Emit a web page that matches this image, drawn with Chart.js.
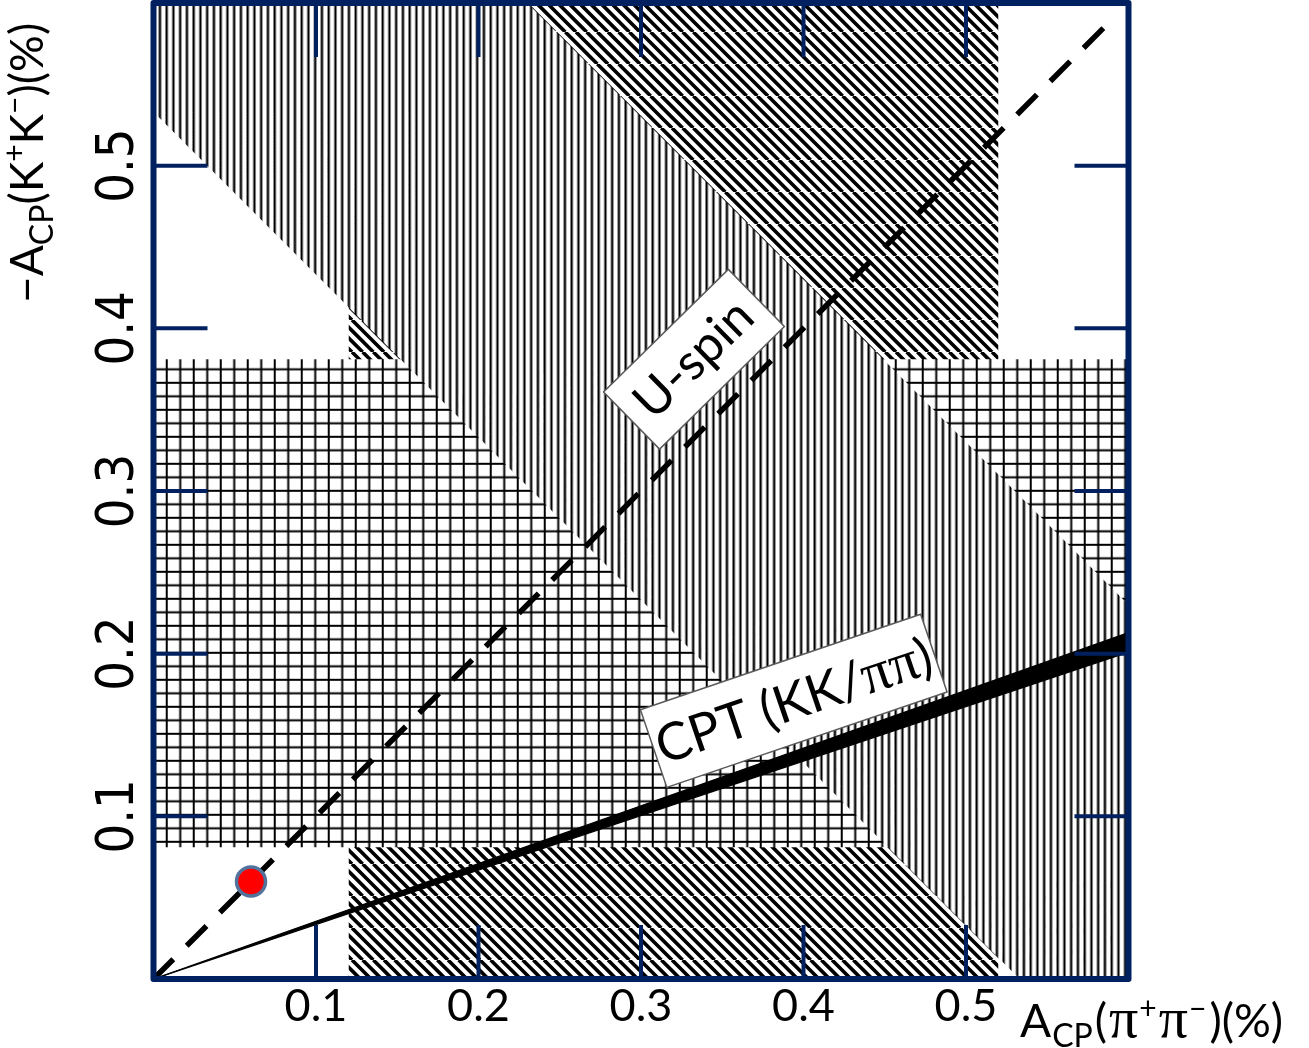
<!DOCTYPE html>
<html><head><meta charset="utf-8">
<script src="https://cdn.jsdelivr.net/npm/chart.js@4.4.1/dist/chart.umd.min.js"></script>
<style>html,body{margin:0;padding:0;background:#fff;} #wrap{width:1309px;height:1048px;position:relative;}</style>
</head><body><div id="wrap"><canvas id="c"></canvas></div>
<script>
// ---- data ----
const axisRange = [0, 0.6];
const xTicks = [0.1, 0.2, 0.3, 0.4, 0.5];
const yTicks = [0.1, 0.2, 0.3, 0.4, 0.5];
const acpPiPiBand = [0.12, 0.52];     // A_CP(pi+pi-) band (diagonal hatch)
const acpKKBand = [0.081, 0.381];     // -A_CP(K+K-) band (cross hatch)
const deltaBand = [0.533, 0.83];      // A_CP(pipi) - A_CP(KK) band (vertical hatch)
const cptSlopes = [0.335, 0.355];     // CPT (KK/pipi) wedge slopes
const uSpinRange = [0, 0.59];         // U-spin line y = x
const measuredPoint = [0.06, 0.06];
const labelTexts = {uspin: 'U-spin', cpt: ['CPT (KK/', 'ππ', ')']};

// ---- styles ----
const NAVY = '#002060';
const SANS = "Lato, 'Open Sans', sans-serif";
const SERIF = "'Liberation Serif', 'DejaVu Serif', serif";
const NARROW = "'Liberation Sans Narrow', 'DejaVu Sans Condensed', " + SANS;

function makePatterns() {
  const base = document.createElement('canvas').getContext('2d');
  // vertical lines
  const v = document.createElement('canvas'); v.width = 27; v.height = 8;
  let g = v.getContext('2d'); g.fillStyle = '#fff'; g.fillRect(0, 0, 27, 8);
  g.fillStyle = '#000'; for (let i = 0; i < 4; i++) g.fillRect(i * 6.75, 0, 2.3, 8);
  const vp = base.createPattern(v, 'repeat');
  vp.setTransform(new DOMMatrix([1, 0, 0, 1, 3.5, 0]));
  // cross hatch
  const c = document.createElement('canvas'); c.width = 27; c.height = 27;
  g = c.getContext('2d'); g.fillStyle = '#fff'; g.fillRect(0, 0, 27, 27);
  g.fillStyle = '#000';
  for (let i = 0; i < 2; i++) { g.fillRect(i * 13.5, 0, 2, 27); g.fillRect(0, i * 13.5, 27, 2); }
  const cp = base.createPattern(c, 'repeat');
  cp.setTransform(new DOMMatrix([1, 0, 0, 1, 3.7, 3.8]));
  // diagonal "\" lines
  const d = document.createElement('canvas'); d.width = 32; d.height = 32;
  g = d.getContext('2d'); g.fillStyle = '#fff'; g.fillRect(0, 0, 32, 32);
  g.strokeStyle = '#000'; g.lineWidth = 3.6; g.beginPath();
  for (let k = -3; k <= 3; k++) { const c0 = k * 32 / 3; g.moveTo(c0, 0); g.lineTo(c0 + 32, 32); }
  g.stroke();
  const dp = base.createPattern(d, 'repeat');
  return {vp, cp, dp};
}
const P = makePatterns();

const xMin = axisRange[0], xMax = axisRange[1];
const datasets = [
  { // 0 measured point
    data: [{x: measuredPoint[0], y: measuredPoint[1]}], showLine: false,
    pointRadius: 14.5, pointBackgroundColor: '#ff0000', pointBorderColor: '#52719b', pointBorderWidth: 3.5, order: 0
  },
  { // 1 U-spin dashed line
    data: uSpinRange.map(v => ({x: v, y: v})), borderColor: '#000', borderWidth: 5.5,
    borderDash: [28, 19], pointRadius: 0, fill: false, order: 1
  },
  { // 2 CPT upper
    data: [{x: xMin, y: cptSlopes[1] * xMin}, {x: xMax, y: cptSlopes[1] * xMax}],
    borderColor: '#000', borderWidth: 1.3, pointRadius: 0, fill: '+1', backgroundColor: '#000', order: 2
  },
  { // 3 CPT lower
    data: [{x: xMin, y: cptSlopes[0] * xMin}, {x: xMax, y: cptSlopes[0] * xMax}],
    borderColor: '#000', borderWidth: 1.3, pointRadius: 0, fill: false, order: 3
  },
  { // 4 delta band upper (x + y = deltaBand[1])
    data: [{x: xMin, y: deltaBand[1] - xMin}, {x: xMax, y: deltaBand[1] - xMax}],
    borderWidth: 0, pointRadius: 0, fill: '+1', backgroundColor: P.vp, order: 4
  },
  { // 5 delta band lower (x + y = deltaBand[0])
    data: [{x: xMin, y: deltaBand[0] - xMin}, {x: xMax, y: deltaBand[0] - xMax}],
    borderWidth: 0, pointRadius: 0, fill: false, order: 5
  },
  { // 6 KK band
    data: [{x: xMin, y: acpKKBand[1]}, {x: xMax, y: acpKKBand[1]}],
    borderWidth: 0, pointRadius: 0, fill: {value: acpKKBand[0]}, backgroundColor: P.cp, order: 6
  },
  { // 7 pipi band
    data: [{x: acpPiPiBand[0], y: axisRange[1]}, {x: acpPiPiBand[1], y: axisRange[1]}],
    borderWidth: 0, pointRadius: 0, fill: {value: axisRange[0]}, backgroundColor: P.dp, order: 7
  }
];

function drawRuns(ctx, runs, x, y) {
  let cx = x;
  for (const r of runs) {
    ctx.font = r.font;
    ctx.fillText(r.t, cx, y + (r.dy || 0));
    cx += ctx.measureText(r.t).width + (r.gap || 0);
  }
  return cx - x;
}
function runsWidth(ctx, runs) {
  let w = 0;
  for (const r of runs) { ctx.font = r.font; w += ctx.measureText(r.t).width + (r.gap || 0); }
  return w;
}
function labelBox(ctx, cx, cy, w, h, ang, runs, base) {
  ctx.save();
  ctx.translate(cx, cy); ctx.rotate(ang * Math.PI / 180);
  ctx.fillStyle = '#fff'; ctx.fillRect(-w / 2, -h / 2, w, h);
  ctx.strokeStyle = '#5a5a5a'; ctx.lineWidth = 1.5; ctx.strokeRect(-w / 2, -h / 2, w, h);
  ctx.fillStyle = '#000'; ctx.textBaseline = 'alphabetic';
  const tw = runsWidth(ctx, runs);
  drawRuns(ctx, runs, -tw / 2, base);
  ctx.restore();
}

const decor = {
  id: 'decor',
  afterDatasetsDraw(chart) {
    const {ctx, chartArea: a, scales: {x, y}} = chart;
    ctx.save();
    // inner ticks
    ctx.strokeStyle = NAVY; ctx.lineWidth = 4; ctx.lineCap = 'butt';
    const L = 54;
    ctx.beginPath();
    for (const v of xTicks) {
      const px = x.getPixelForValue(v);
      ctx.moveTo(px, a.bottom); ctx.lineTo(px, a.bottom - L);
      ctx.moveTo(px, a.top); ctx.lineTo(px, a.top + L);
    }
    for (const v of yTicks) {
      const py = y.getPixelForValue(v);
      ctx.moveTo(a.left, py); ctx.lineTo(a.left + L, py);
      ctx.moveTo(a.right, py); ctx.lineTo(a.right - L, py);
    }
    ctx.stroke();
    // frame
    ctx.lineWidth = 6; ctx.lineJoin = 'round';
    ctx.strokeRect(a.left, a.top, a.right - a.left, a.bottom - a.top);
    // label boxes
    labelBox(ctx, x.getPixelForValue(0.3326), y.getPixelForValue(0.381), 175, 80, -44.5,
      [{t: labelTexts.uspin, font: '50px ' + SANS}], 16);
    labelBox(ctx, x.getPixelForValue(0.394), y.getPixelForValue(0.171), 296, 82, -18.8,
      [{t: labelTexts.cpt[0], font: '52px ' + SANS}, {t: labelTexts.cpt[1], font: '58px ' + SERIF}, {t: labelTexts.cpt[2], font: '52px ' + SANS}], 18);
    // axis titles
    ctx.fillStyle = '#000'; ctx.textBaseline = 'alphabetic';
    const M = '46px ' + SANS, S = '32px ' + SANS, U = '30px ' + SANS, PI = '58px ' + SERIF;
    drawRuns(ctx, [
      {t: 'A', font: M, gap: 1}, {t: 'CP', font: S, dy: 10, gap: 2}, {t: '(', font: M, gap: 2}, {t: 'π', font: PI, gap: 1},
      {t: '+', font: U, dy: -18, gap: 2}, {t: 'π', font: PI, gap: 1}, {t: '−', font: U, dy: -18, gap: 3}, {t: ')(%)', font: M}
    ], a.right - 108.5, a.bottom + 58);
    ctx.save();
    ctx.translate(a.left - 110.5, a.top + 300);
    ctx.rotate(-Math.PI / 2);
    drawRuns(ctx, [
      {t: '−', font: M}, {t: 'A', font: M}, {t: 'CP', font: S, dy: 10}, {t: '(K', font: M},
      {t: '+', font: U, dy: -18}, {t: 'K', font: M}, {t: '−', font: U, dy: -18}, {t: ')(%)', font: M}
    ], 0, 0);
    ctx.restore();
    ctx.restore();
  }
};

function noPad(s) { s.paddingTop = 0; s.paddingBottom = 0; s.paddingLeft = 0; s.paddingRight = 0; }

new Chart(document.getElementById('c'), {
  type: 'line',
  data: {datasets},
  options: {
    responsive: true, maintainAspectRatio: false, animation: false, devicePixelRatio: 1,
    elements: {line: {tension: 0}},
    layout: {autoPadding: false, padding: {top: 3, right: 180.5, left: 0, bottom: 0}},
    plugins: {legend: {display: false}, tooltip: {enabled: false}, filler: {propagate: false}},
    scales: {
      x: {
        type: 'linear', min: axisRange[0], max: axisRange[1],
        grid: {display: false, drawTicks: false}, border: {display: false},
        afterBuildTicks: s => { s.ticks = xTicks.map(v => ({value: v})); },
        ticks: {color: '#000', font: {family: SANS, size: 45}, padding: 0, maxRotation: 0, autoSkip: false,
          callback: v => v.toFixed(1)},
        afterFit: s => { s.height = 69; noPad(s); }
      },
      y: {
        type: 'linear', min: axisRange[0], max: axisRange[1],
        grid: {display: false, drawTicks: false}, border: {display: false},
        afterBuildTicks: s => { s.ticks = yTicks.map(v => ({value: v})); },
        ticks: {color: '#000', font: {family: NARROW, size: 52}, padding: -3, minRotation: 90, maxRotation: 90,
          crossAlign: 'center', autoSkip: false, callback: v => v.toFixed(1)},
        afterFit: s => { s.width = 153.5; noPad(s); }
      }
    }
  },
  plugins: [decor]
});
</script>
</body></html>
